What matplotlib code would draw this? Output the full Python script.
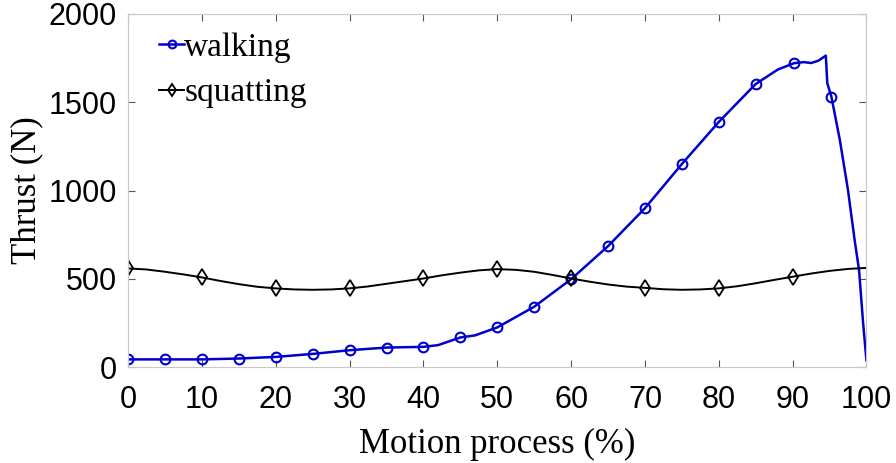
import numpy as np
import matplotlib
matplotlib.use("Agg")
import matplotlib.pyplot as plt

# walking: thrust (N) vs motion process (%)
walk_x = [0, 5, 10, 15, 20, 25, 30, 35, 40, 42, 45, 47, 50, 55, 60, 65, 70, 75, 80, 85,
          88, 90.2, 91.5, 92.5, 93.5, 94.5, 94.7, 95.25, 96.4, 97.5, 98.4, 99.0, 99.55, 100]
walk_y = [44, 44, 44, 49, 58, 75, 96, 111, 115, 125, 168, 180, 225, 342, 498, 685, 900, 1150, 1388, 1603,
          1685, 1721, 1727, 1722, 1735, 1764, 1607, 1532, 1286, 1003, 720, 550, 250, 40]
walk_marks = [0, 1, 2, 3, 4, 5, 6, 7, 8, 10, 12, 13, 14, 15, 16, 17, 18, 19, 21, 27]

# squatting
squat_x = list(np.arange(0, 100.1, 2.5))
squat_y = [559, 553, 540, 525, 508, 488, 470, 455, 446, 440, 438, 440, 446, 457, 472, 487, 502,
           520, 535, 548, 555, 551, 540, 522, 502, 484, 468, 456, 449, 441, 438, 440, 446, 458,
           475, 494, 512, 530, 545, 556, 562]
squat_marks = list(range(0, 37, 4))

fig, ax = plt.subplots(figsize=(8.96, 4.63), dpi=100)
fig.subplots_adjust(left=0.143, right=0.967, top=0.970, bottom=0.207)

ax.plot(walk_x, walk_y, color='#0000cc', lw=1.8, marker='o', ms=7, mfc='none', mew=1.5,
        markevery=walk_marks, label='walking')
ax.plot(squat_x, squat_y, color='black', lw=1.4, marker='d', ms=8, mfc='none', mew=1.3,
        markevery=squat_marks, label='squatting')

ax.set_xlim(0, 100)
ax.set_ylim(0, 2000)
ax.set_xticks(np.arange(0, 101, 10))
ax.set_yticks(np.arange(0, 2001, 500))

for sp in ax.spines.values():
    sp.set_color('#c8c8c8')
ax.tick_params(direction='in', length=5, color='#555555', top=True, right=True, labelsize=22)
ax.tick_params(axis='y', pad=8)
ax.tick_params(axis='x', pad=13)
for lab in ax.get_xticklabels() + ax.get_yticklabels():
    lab.set_family('Liberation Sans')

ax.set_xlabel('Motion process (%)', family='Liberation Serif', fontsize=25, labelpad=9)
ax.set_ylabel('Thrust (N)', family='Liberation Serif', fontsize=25, labelpad=4)

leg = ax.legend(loc='upper left', bbox_to_anchor=(0.024, 0.986), frameon=False,
                prop={'family': 'Liberation Serif', 'size': 24},
                handlelength=0.75, handletextpad=0.0, borderaxespad=0.0, labelspacing=0.45,
                markerscale=0.8)

fig.savefig('out.png', dpi=100)
